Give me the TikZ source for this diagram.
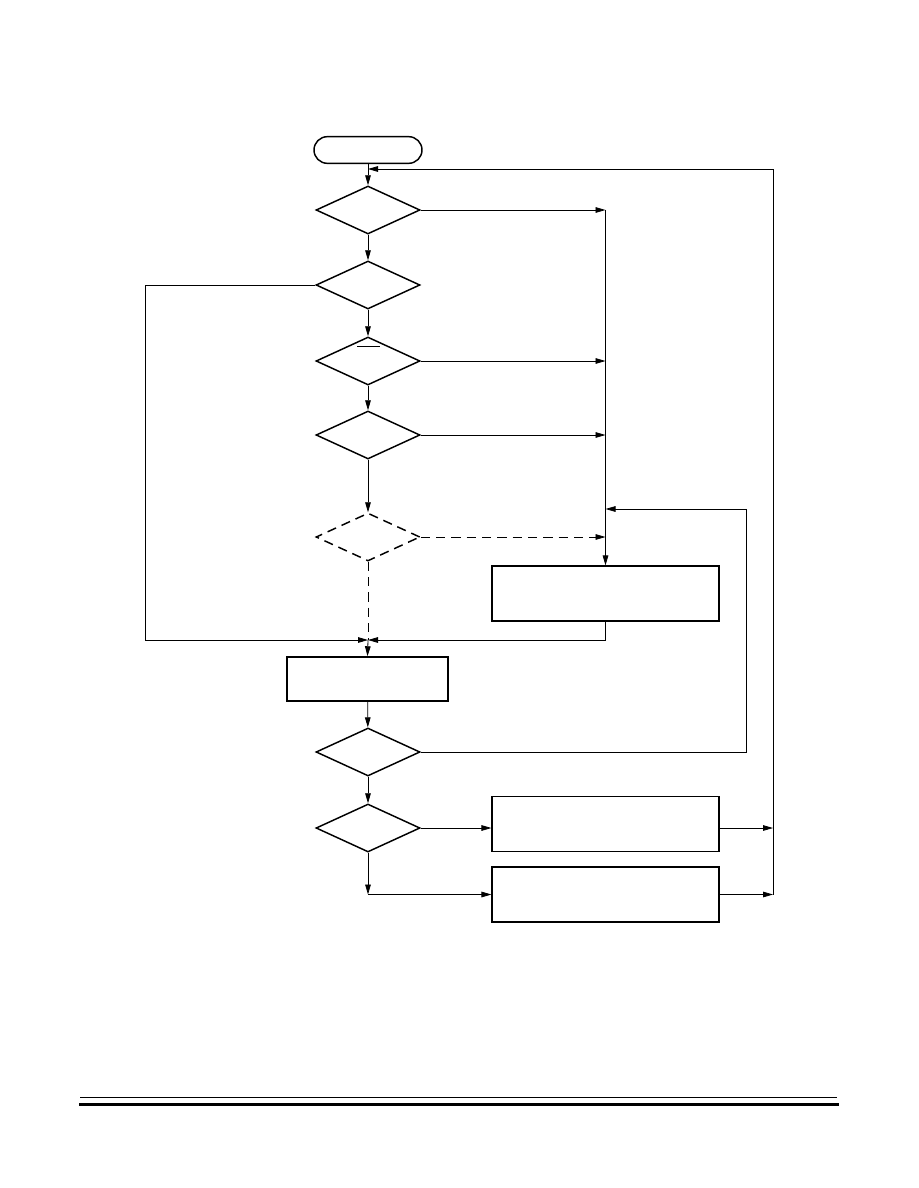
\documentclass[tikz,border=0pt]{standalone}
\usetikzlibrary{shapes.geometric,arrows.meta}

\tikzset{
  decision/.style={diamond, draw, line width=1.1pt, minimum width=78pt, minimum height=36pt, inner sep=0pt},
  process/.style={rectangle, draw, line width=1.1pt, inner sep=0pt},
  wide box/.style={process, minimum width=170pt, minimum height=41pt},
  flow/.style={line width=0.6pt},
  flowarrow/.style={flow, -{Triangle[length=7.5pt,width=4.2pt]}},
  optional/.style={dash pattern=on 7pt off 4.5pt},
}

\begin{document}
\begin{tikzpicture}[x=0.75pt, y=-0.75pt]
\useasboundingbox (0,0) rectangle (918,1188);

% main column
\node[process, rounded corners=10pt, minimum width=81pt, minimum height=20pt] (start) at (368,150) {};
\node[decision] (d1) at (368,210) {};
\node[decision] (d2) at (368,285) {};
\node[decision] (d3) at (368,361) {};
\node[decision] (d4) at (368,435) {};
\node[decision, optional] (d5) at (368,537) {};
\node[process, minimum width=121pt, minimum height=33pt] (boxb) at (367.5,679) {};
\node[decision] (d6) at (368,752) {};
\node[decision] (d7) at (368,828) {};

% right column
\node[wide box] (boxa) at (605.5,593.5) {};
\node[wide box] (boxc) at (605.5,824) {};
\node[wide box] (boxd) at (605.5,894.5) {};

\coordinate (merge) at (368,640);
\coordinate (leftturn) at (145,640);
\coordinate (back) at (746,509);
\coordinate (ret) at (773,169);

\draw[flow] (357,346) -- (380,346);

\draw[flowarrow] (start) -- (d1);
\draw[flowarrow] (d1) -- (d2);
\draw[flowarrow] (d2) -- (d3);
\draw[flowarrow] (d3) -- (d4);
\draw[flowarrow] (d4) -- (d5);

% collector into boxa
\draw[flowarrow] (d1.east -| boxa.north) -- (boxa.north);
\draw[flowarrow] (d1.east) -- (d1.east -| boxa.north);
\draw[flowarrow] (d3.east) -- (d3.east -| boxa.north);
\draw[flowarrow] (d4.east) -- (d4.east -| boxa.north);
\draw[flowarrow, optional] (d5.east) -- (d5.east -| boxa.north);
\draw[flowarrow] (d6.east) -| (back) -- (back -| boxa.north);

% merge above boxb
\draw[flowarrow] (d2.west) -| (leftturn) -- (merge);
\draw[flowarrow] (boxa.south) |- (merge);
\draw[flow, optional] (d5.south) -- (merge);
\draw[flowarrow] (merge) -- (boxb.north);
\draw[flowarrow] (boxb) -- (d6);
\draw[flowarrow] (d6) -- (d7);

\draw[flowarrow] (d7.east) -- (d7.east -| boxc.west);
\draw[flowarrow] (d7.south) -- (d7.south |- boxd.west);
\draw[flowarrow] (d7.south |- boxd.west) -- (boxd.west);

% return loop
\draw[flowarrow] (boxc.east |- d7.east) -- (ret |- d7.east);
\draw[flowarrow] (boxd.east) -- (ret |- boxd.east);
\draw[flowarrow] (ret |- boxd.east) -- (ret) -- (ret -| start.south);

% page rules
\draw[line width=0.75pt] (80,1097) -- (837,1097);
\draw[line width=2.2pt] (79,1104.3) -- (839,1104.3);
\end{tikzpicture}
\end{document}
